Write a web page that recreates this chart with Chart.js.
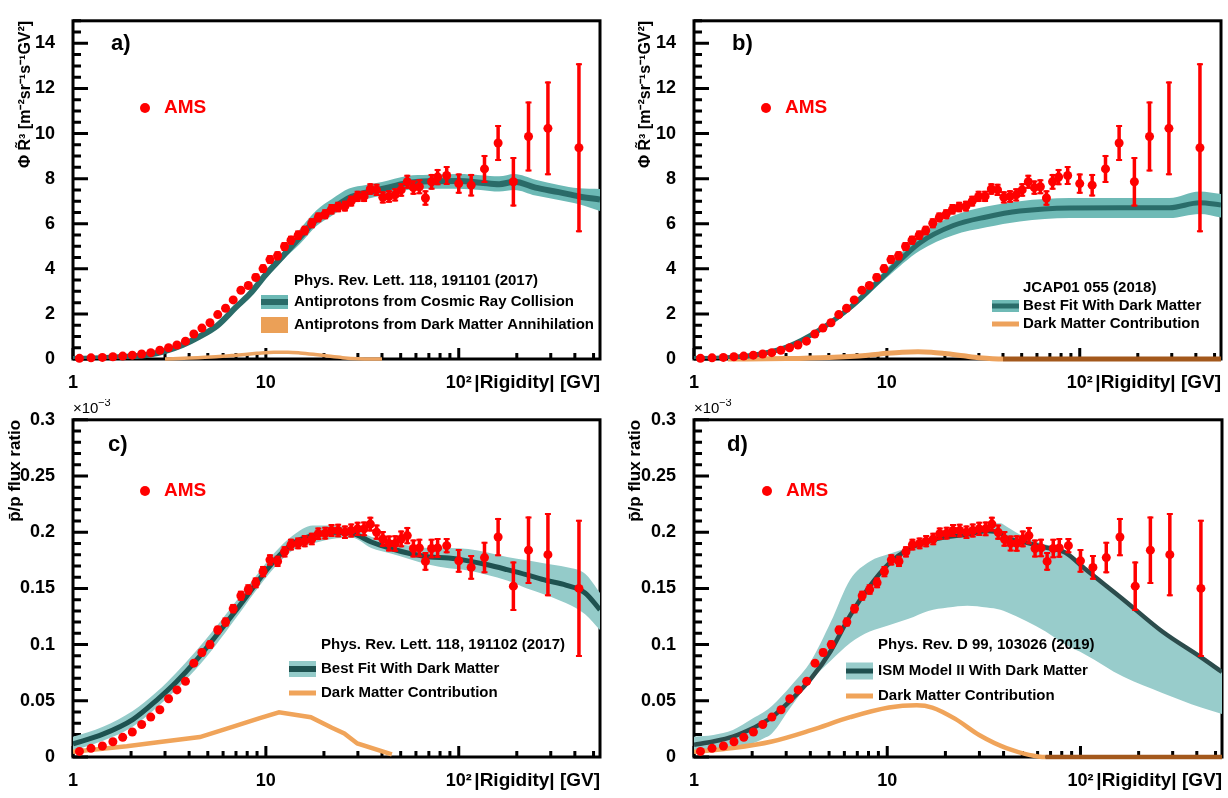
<!DOCTYPE html>
<html lang="en">
<head>
<meta charset="UTF-8" />
<title>AMS antiproton flux and p/p ratio vs models</title>
<script src="https://cdn.jsdelivr.net/npm/chart.js@4.4.1/dist/chart.umd.min.js"></script>
<style>
  body { margin: 0; background: #fff; }
  .panel { position: absolute; }
</style>
</head>
<body>
<div class="panel" style="left:0;top:0;width:614px;height:400px"><canvas id="chartA" width="614" height="400"></canvas></div>
<div class="panel" style="left:620px;top:0;width:608px;height:400px"><canvas id="chartB" width="608" height="400"></canvas></div>
<div class="panel" style="left:0;top:399px;width:614px;height:399px"><canvas id="chartC" width="614" height="399"></canvas></div>
<div class="panel" style="left:620px;top:399px;width:608px;height:399px"><canvas id="chartD" width="608" height="399"></canvas></div>

<script>
// AMS points, same rigidity bins in all four panels
var rigidity = [1.08, 1.24, 1.42, 1.61, 1.81, 2.03, 2.27, 2.53, 2.82, 3.13, 3.46, 3.83, 4.23, 4.66, 5.13, 5.63, 6.18, 6.77, 7.42, 8.11, 8.86, 9.67, 10.5, 11.5, 12.5, 13.5, 14.7, 15.9, 17.3, 18.7, 20.3, 21.9, 23.7, 25.7, 27.7, 29.9, 32.3, 34.8, 37.5, 40.4, 43.5, 46.8, 50.3, 54.1, 58.2, 62.5, 67.2, 72.3, 77.7, 86.6, 100, 116, 136, 160, 192, 230, 290, 420];

// antiproton flux x R^3 (panels a, b)
var fluxR3 = [0.03, 0.05, 0.07, 0.1, 0.13, 0.17, 0.22, 0.28, 0.39, 0.5, 0.62, 0.79, 1.11, 1.37, 1.61, 1.97, 2.25, 2.62, 3.05, 3.26, 3.62, 4.01, 4.41, 4.58, 4.99, 5.27, 5.49, 5.7, 6.02, 6.28, 6.42, 6.64, 6.74, 6.78, 7.0, 7.21, 7.21, 7.54, 7.5, 7.17, 7.21, 7.28, 7.5, 7.86, 7.6, 7.64, 7.14, 7.86, 8.07, 8.14, 7.78, 7.71, 8.43, 9.58, 7.86, 9.87, 10.23, 9.37];
var fluxErr = [0.02, 0.02, 0.02, 0.02, 0.02, 0.03, 0.03, 0.03, 0.04, 0.05, 0.06, 0.07, 0.08, 0.1, 0.11, 0.12, 0.13, 0.14, 0.15, 0.16, 0.17, 0.18, 0.19, 0.2, 0.2, 0.2, 0.21, 0.21, 0.22, 0.22, 0.22, 0.23, 0.23, 0.24, 0.24, 0.25, 0.25, 0.26, 0.27, 0.27, 0.28, 0.29, 0.3, 0.31, 0.32, 0.33, 0.34, 0.35, 0.36, 0.42, 0.45, 0.5, 0.62, 0.8, 1.1, 1.55, 2.08, 3.75];

// pbar/p ratio in units of 1e-3 (panels c, d)
var pbarRatio = [0.005, 0.0077, 0.0098, 0.0136, 0.0175, 0.0222, 0.0289, 0.0355, 0.042, 0.0518, 0.0597, 0.0673, 0.0835, 0.093, 0.1, 0.113, 0.12, 0.132, 0.1435, 0.149, 0.155, 0.165, 0.1754, 0.174, 0.1826, 0.189, 0.19, 0.192, 0.194, 0.1986, 0.1991, 0.2015, 0.2015, 0.2, 0.2015, 0.203, 0.203, 0.2072, 0.2, 0.194, 0.19, 0.19, 0.194, 0.197, 0.1855, 0.186, 0.174, 0.1855, 0.186, 0.188, 0.1745, 0.1687, 0.1774, 0.1957, 0.152, 0.184, 0.18, 0.15];
var ratioErr = [0.0005, 0.0005, 0.0006, 0.0007, 0.0008, 0.0009, 0.001, 0.0012, 0.0014, 0.0017, 0.002, 0.0025, 0.003, 0.0033, 0.0036, 0.0038, 0.004, 0.0042, 0.0044, 0.0046, 0.0048, 0.005, 0.005, 0.005, 0.005, 0.0052, 0.0052, 0.0054, 0.0055, 0.0056, 0.0057, 0.0058, 0.006, 0.006, 0.0062, 0.0063, 0.0065, 0.0066, 0.0068, 0.007, 0.0071, 0.0073, 0.0075, 0.0077, 0.008, 0.0082, 0.0084, 0.0086, 0.0088, 0.0068, 0.0105, 0.011, 0.014, 0.017, 0.022, 0.03, 0.037, 0.061];

// a) cosmic ray collision model
var modelA_R = [1, 1.5, 2, 2.5, 3, 3.7, 4.5, 5.6, 7, 8.25, 10, 12.3, 15, 18.3, 22, 27, 33, 40, 54, 70, 100, 130, 162, 194, 250, 330, 420, 540];
var modelA = [0, 0.05, 0.11, 0.2, 0.35, 0.62, 0.98, 1.48, 2.3, 2.88, 3.75, 4.58, 5.4, 6.2, 6.65, 7.14, 7.38, 7.54, 7.8, 7.88, 7.9, 7.82, 7.75, 7.86, 7.6, 7.4, 7.21, 7.07];
var modelA_hi = [0.08, 0.13, 0.19, 0.28, 0.43, 0.71, 1.07, 1.58, 2.41, 3.0, 3.88, 4.76, 5.75, 6.6, 7.1, 7.56, 7.72, 7.85, 8.12, 8.17, 8.2, 8.15, 8.1, 8.2, 7.95, 7.72, 7.57, 7.54];
var modelA_lo = [0, 0, 0.04, 0.12, 0.27, 0.54, 0.89, 1.38, 2.2, 2.76, 3.62, 4.41, 5.1, 5.9, 6.35, 6.85, 7.08, 7.25, 7.5, 7.55, 7.55, 7.5, 7.43, 7.5, 7.25, 7.05, 6.86, 6.56];
var dmA_R = [3, 4, 5.5, 7, 9, 11, 13, 15, 18, 21, 25, 30, 40];
var dmA = [0, 0.04, 0.1, 0.17, 0.25, 0.3, 0.3, 0.27, 0.2, 0.13, 0.06, 0.015, 0];

// b) best fit with dark matter
var modelB_R = [1, 1.36, 2.03, 3.02, 4.5, 6.7, 9.96, 14.8, 22.1, 32.8, 48.9, 88.7, 161, 292, 418, 540];
var modelB = [0.02, 0.04, 0.17, 0.53, 1.3, 2.4, 3.8, 5.15, 5.92, 6.3, 6.56, 6.7, 6.71, 6.71, 6.93, 6.83];
var modelB_hi = [0.08, 0.1, 0.25, 0.62, 1.4, 2.55, 4.0, 5.5, 6.35, 6.76, 7.0, 7.14, 7.14, 7.14, 7.43, 7.32];
var modelB_lo = [0, 0, 0.1, 0.45, 1.2, 2.25, 3.6, 4.8, 5.49, 5.84, 6.1, 6.25, 6.25, 6.25, 6.43, 6.28];
var dmB_R = [1.5, 3, 5, 8, 10, 12, 14.5, 17, 20, 25, 30, 40, 60, 100, 200, 540];
var dmB = [0, 0.02, 0.07, 0.17, 0.25, 0.3, 0.32, 0.3, 0.24, 0.14, 0.06, 0, 0, 0, 0, 0];

// c) best fit with dark matter (ratio)
var modelC_R = [1, 1.43, 2.04, 2.72, 3.43, 4.33, 5.47, 6.89, 8.7, 11, 13.8, 17.5, 22, 27.9, 35.2, 44.4, 55.8, 70.5, 88.8, 112, 141, 178, 226, 285, 359, 452, 540];
var modelC = [0.0116, 0.0203, 0.0333, 0.0507, 0.0667, 0.0855, 0.107, 0.129, 0.152, 0.174, 0.19, 0.197, 0.2, 0.199, 0.1913, 0.1855, 0.181, 0.178, 0.177, 0.1745, 0.171, 0.1667, 0.162, 0.157, 0.153, 0.146, 0.131];
var modelC_hi = [0.018, 0.027, 0.041, 0.058, 0.075, 0.094, 0.115, 0.137, 0.159, 0.181, 0.197, 0.206, 0.206, 0.203, 0.196, 0.191, 0.188, 0.186, 0.186, 0.185, 0.182, 0.178, 0.175, 0.172, 0.169, 0.163, 0.146];
var modelC_lo = [0.0058, 0.0145, 0.027, 0.044, 0.06, 0.078, 0.099, 0.122, 0.146, 0.168, 0.184, 0.19, 0.194, 0.195, 0.186, 0.181, 0.176, 0.171, 0.168, 0.166, 0.162, 0.157, 0.15, 0.144, 0.137, 0.127, 0.113];
var dmC_R = [1, 1.9, 2.82, 4.55, 6.77, 9.3, 11.7, 17.1, 22, 25.5, 29.8, 45];
var dmC = [0.0046, 0.0096, 0.0134, 0.0177, 0.027, 0.0346, 0.0397, 0.0354, 0.026, 0.021, 0.012, 0.0023];

// d) ISM model II with dark matter (ratio)
var modelD_R = [1, 1.26, 1.59, 2.0, 2.3, 2.53, 3.2, 4.04, 5.1, 6.43, 8.12, 10.2, 12.9, 16.3, 20.6, 26, 32.8, 38.5, 41.4, 52.3, 66, 83.3, 105, 167, 265, 421, 540];
var modelD = [0.0109, 0.0138, 0.0181, 0.0253, 0.031, 0.0354, 0.0512, 0.0699, 0.0943, 0.126, 0.152, 0.172, 0.185, 0.192, 0.196, 0.198, 0.201, 0.199, 0.195, 0.1907, 0.1864, 0.182, 0.1677, 0.14, 0.1116, 0.0886, 0.0756];
var modelD_hi = [0.0181, 0.0196, 0.024, 0.034, 0.04, 0.0454, 0.0641, 0.0857, 0.12, 0.158, 0.174, 0.1806, 0.1864, 0.192, 0.196, 0.2, 0.2065, 0.208, 0.205, 0.195, 0.189, 0.1835, 0.169, 0.141, 0.1125, 0.0895, 0.0765];
var modelD_lo = [0.0052, 0.0065, 0.008, 0.012, 0.0167, 0.021, 0.0454, 0.0684, 0.0857, 0.1015, 0.1116, 0.1173, 0.123, 0.13, 0.133, 0.1346, 0.133, 0.131, 0.1289, 0.121, 0.1116, 0.1, 0.0915, 0.0713, 0.057, 0.044, 0.0383];
var dmD_R = [1, 1.59, 2.53, 4.04, 6.43, 10.2, 14.2, 17.1, 22.5, 29.9, 41.4, 66, 105, 540];
var dmD = [0.0046, 0.008, 0.0138, 0.0239, 0.0354, 0.044, 0.046, 0.044, 0.0339, 0.0196, 0.008, 0, 0, 0];

var xTicks = [1, 10, 100];
var FONT = "'Liberation Sans', Arial, Helvetica, sans-serif";
Chart.defaults.font.family = FONT;
Chart.defaults.color = "#000";

function pts(xs, ys) {
  return xs.map(function (x, i) { return { x: x, y: ys[i] }; });
}

// ROOT style frame with inward ticks
var rootFrame = {
  id: "rootFrame",
  beforeDatasetsDraw: function (chart, args, opts) {
    var ctx = chart.ctx, a = chart.chartArea;
    var xs = chart.scales.x, ys = chart.scales.y;
    ctx.save();
    ctx.strokeStyle = "#000";
    ctx.lineWidth = 3;
    ctx.strokeRect(a.left, a.top, a.right - a.left, a.bottom - a.top);
    ctx.beginPath();
    var n = Math.round(opts.yMax / opts.yMinor);
    var every = Math.round(opts.yMajor / opts.yMinor);
    for (var i = 0; i <= n; i++) {
      var y = ys.getPixelForValue(i * opts.yMinor);
      ctx.moveTo(a.left, y);
      ctx.lineTo(a.left + (i % every === 0 ? 15 : 8), y);
    }
    for (var d = 1; d <= 100; d *= 10) {
      for (var k = 1; k < 10; k++) {
        if (d * k > xs.max) break;
        var x = xs.getPixelForValue(d * k);
        ctx.moveTo(x, a.bottom);
        ctx.lineTo(x, a.bottom - (k === 1 ? 11 : 6));
      }
    }
    ctx.stroke();
    ctx.restore();
  }
};

var errorBars = {
  id: "errorBars",
  afterDatasetsDraw: function (chart, args, opts) {
    var ctx = chart.ctx, ys = chart.scales.y;
    var meta = chart.getDatasetMeta(0), ds = chart.data.datasets[0];
    ctx.save();
    ctx.strokeStyle = "#ff0000";
    meta.data.forEach(function (p, i) {
      var v = ds.data[i].y, e = opts.errors[i];
      var y1 = ys.getPixelForValue(v + e), y2 = ys.getPixelForValue(v - e);
      if (y2 - y1 < 7) return;
      ctx.lineWidth = 3.5;
      ctx.beginPath();
      ctx.moveTo(p.x, y1); ctx.lineTo(p.x, y2);
      ctx.stroke();
      ctx.lineWidth = 2;
      ctx.beginPath();
      ctx.moveTo(p.x - 3, y1 + 1); ctx.lineTo(p.x + 3, y1 + 1);
      ctx.moveTo(p.x - 3, y2 - 1); ctx.lineTo(p.x + 3, y2 - 1);
      ctx.stroke();
    });
    ctx.restore();
  }
};

// panel label, AMS marker, model legend
var notes = {
  id: "notes",
  afterDraw: function (chart, args, o) {
    var ctx = chart.ctx;
    ctx.save();
    ctx.textBaseline = "middle";
    ctx.textAlign = "left";
    ctx.fillStyle = "#000";
    ctx.font = "bold 22px " + FONT;
    ctx.fillText(o.label, o.labelAt[0], o.labelAt[1]);

    ctx.fillStyle = "#ff0000";
    ctx.beginPath();
    ctx.arc(o.ams[0], o.ams[1], 5, 0, Math.PI * 2);
    ctx.fill();
    ctx.font = "bold 19px " + FONT;
    ctx.fillText("AMS", o.ams[0] + 19, o.ams[1]);

    ctx.fillStyle = "#000";
    ctx.font = "bold 15px " + FONT;
    ctx.fillText(o.cite, o.textX, o.citeY);
    o.entries.forEach(function (e) {
      ctx.fillStyle = e.fill;
      ctx.fillRect(o.boxX, e.y - e.h / 2, 27, e.h);
      if (e.kind === "band") {
        ctx.fillStyle = e.line;
        ctx.fillRect(o.boxX, e.y - e.lw / 2, 27, e.lw);
      }
      ctx.fillStyle = "#000";
      ctx.fillText(e.text, o.textX, e.y);
    });

    if (o.exponent) {
      ctx.font = "15px " + FONT;
      ctx.fillText("\u00d710", chart.chartArea.left, 10);
      ctx.font = "11px " + FONT;
      ctx.fillText("\u22123", chart.chartArea.left + 25, 4);
    }
    ctx.restore();
  }
};

function makePanel(id, p) {
  var dmSet = {
    data: pts(p.dmR, p.dm), showLine: true, borderColor: p.dmColor, borderWidth: p.dmWidth,
    pointRadius: 0, order: 1, clip: { left: 0, top: 0, right: 0, bottom: 4 },
    segment: {
      borderColor: function (c) {
        return c.p0.parsed.y === 0 && c.p1.parsed.y === 0 ? "#a3581c" : undefined;
      }
    }
  };
  if (p.dmStraight) dmSet.tension = 0; else dmSet.cubicInterpolationMode = "monotone";

  return new Chart(document.getElementById(id), {
    type: "scatter",
    data: {
      datasets: [
        { data: pts(rigidity, p.ams), backgroundColor: "#ff0000", borderWidth: 0, pointRadius: 4.5, pointHoverRadius: 4.5, clip: false, order: 0 },
        { data: pts(p.modelR, p.model), showLine: true, borderColor: p.lineColor, borderWidth: p.lineWidth, pointRadius: 0, cubicInterpolationMode: "monotone", order: 1 },
        dmSet,
        { data: pts(p.modelR, p.hi), showLine: true, borderWidth: 0, pointRadius: 0, fill: "+1", backgroundColor: p.bandColor, cubicInterpolationMode: "monotone", order: 2 },
        { data: pts(p.modelR, p.lo), showLine: true, borderWidth: 0, pointRadius: 0, cubicInterpolationMode: "monotone", order: 2 }
      ]
    },
    options: {
      responsive: false,
      animation: false,
      devicePixelRatio: 1,
      events: [],
      layout: { padding: { left: 0, top: p.top, right: p.right, bottom: 0 } },
      plugins: {
        legend: { display: false },
        tooltip: { enabled: false },
        rootFrame: { yMax: p.yMax, yMajor: p.yStep, yMinor: p.yMinor },
        errorBars: { errors: p.err },
        notes: p.notes
      },
      scales: {
        x: {
          type: "logarithmic", min: 1, max: 540,
          grid: { display: false }, border: { display: false },
          afterBuildTicks: function (s) { s.ticks = xTicks.map(function (v) { return { value: v }; }); },
          afterFit: function (s) { s.height = 41; },
          ticks: {
            autoSkip: false, maxRotation: 0, padding: 5,
            font: { size: 18, weight: "bold" },
            callback: function (v) { return v === 100 ? "10\u00b2" : String(v); }
          },
          title: { display: true, text: "|Rigidity| [GV]", align: "end", font: { size: 19, weight: "bold" }, padding: { top: 0, bottom: 6 } }
        },
        y: {
          min: 0, max: p.yMax,
          grid: { display: false }, border: { display: false },
          afterBuildTicks: function (s) {
            s.ticks = s.ticks.filter(function (t) { return t.value <= p.yLabelMax + 1e-9; });
          },
          afterFit: function (s) { s.width = p.left; },
          ticks: {
            stepSize: p.yStep, padding: 10,
            font: { size: 18, weight: "bold" },
            callback: function (v) { return String(+v.toFixed(2)); }
          },
          title: { display: true, text: p.yTitle, align: "end", font: { size: p.titleSize, weight: "bold" }, padding: { top: p.titlePad, bottom: 0 } }
        }
      }
    },
    plugins: [rootFrame, errorBars, notes]
  });
}

var fluxTitle = "\u03a6 R\u0303\u00b3 [m\u207b\u00b2sr\u207b\u00b9s\u207b\u00b9GV\u00b2]";
var ratioTitle = "p\u0304/p flux ratio";

makePanel("chartA", {
  ams: fluxR3, err: fluxErr, modelR: modelA_R, model: modelA, hi: modelA_hi, lo: modelA_lo,
  dmR: dmA_R, dm: dmA, dmColor: "#eca462", dmWidth: 3.5,
  lineColor: "#2a6b68", lineWidth: 6, bandColor: "#6cb9b5",
  yMax: 15, yLabelMax: 14, yStep: 2, yMinor: 0.5, yTitle: fluxTitle, titleSize: 16, titlePad: 16,
  left: 73, top: 13, right: 14,
  notes: {
    label: "a)", labelAt: [111, 44], ams: [145, 108],
    cite: "Phys. Rev. Lett. 118, 191101 (2017)", citeY: 281, boxX: 261, textX: 294,
    entries: [
      { kind: "band", fill: "#6cb9b5", line: "#2a6b68", y: 302, h: 14, lw: 6, text: "Antiprotons from Cosmic Ray Collision" },
      { kind: "fill", fill: "#eba057", y: 325, h: 16, text: "Antiprotons from Dark Matter Annihilation" }
    ]
  }
});

makePanel("chartB", {
  ams: fluxR3, err: fluxErr, modelR: modelB_R, model: modelB, hi: modelB_hi, lo: modelB_lo,
  dmR: dmB_R, dm: dmB, dmColor: "#eda25c", dmWidth: 5,
  lineColor: "#2a6d6a", lineWidth: 5, bandColor: "#6fbab6",
  yMax: 15, yLabelMax: 14, yStep: 2, yMinor: 0.5, yTitle: fluxTitle, titleSize: 16, titlePad: 16,
  left: 74, top: 13, right: 7,
  notes: {
    label: "b)", labelAt: [112, 44], ams: [146, 108],
    cite: "JCAP01 055 (2018)", citeY: 288, boxX: 372, textX: 403,
    entries: [
      { kind: "band", fill: "#6fbab6", line: "#2a6d6a", y: 306, h: 12, lw: 5, text: "Best Fit With Dark Matter" },
      { kind: "line", fill: "#eda25c", y: 324, h: 5, text: "Dark Matter Contribution" }
    ]
  }
});

makePanel("chartC", {
  ams: pbarRatio, err: ratioErr, modelR: modelC_R, model: modelC, hi: modelC_hi, lo: modelC_lo,
  dmR: dmC_R, dm: dmC, dmColor: "#f0a45a", dmWidth: 4.5, dmStraight: true,
  lineColor: "#1e5250", lineWidth: 5, bandColor: "#94cbc9",
  yMax: 0.3, yLabelMax: 0.3, yStep: 0.05, yMinor: 0.01, yTitle: ratioTitle, titleSize: 17, titlePad: 5,
  left: 73, top: 14, right: 14,
  notes: {
    label: "c)", labelAt: [108, 46], ams: [145, 92], exponent: true,
    cite: "Phys. Rev. Lett. 118, 191102 (2017)", citeY: 246, boxX: 289, textX: 321,
    entries: [
      { kind: "band", fill: "#94cbc9", line: "#1e5250", y: 270, h: 16, lw: 6, text: "Best Fit With Dark Matter" },
      { kind: "line", fill: "#f0a45a", y: 294, h: 5, text: "Dark Matter Contribution" }
    ]
  }
});

makePanel("chartD", {
  ams: pbarRatio, err: ratioErr, modelR: modelD_R, model: modelD, hi: modelD_hi, lo: modelD_lo,
  dmR: dmD_R, dm: dmD, dmColor: "#f0a45a", dmWidth: 4.5,
  lineColor: "#2c4c4c", lineWidth: 4.5, bandColor: "#98cccb",
  yMax: 0.3, yLabelMax: 0.3, yStep: 0.05, yMinor: 0.01, yTitle: ratioTitle, titleSize: 17, titlePad: 5,
  left: 74, top: 14, right: 6,
  notes: {
    label: "d)", labelAt: [107, 46], ams: [147, 92], exponent: true,
    cite: "Phys. Rev. D 99, 103026 (2019)", citeY: 246, boxX: 226, textX: 258,
    entries: [
      { kind: "band", fill: "#98cccb", line: "#1e4f4f", y: 272, h: 17, lw: 5, text: "ISM Model II With Dark Matter" },
      { kind: "line", fill: "#f0a45a", y: 297, h: 5, text: "Dark Matter Contribution" }
    ]
  }
});
</script>
</body>
</html>
